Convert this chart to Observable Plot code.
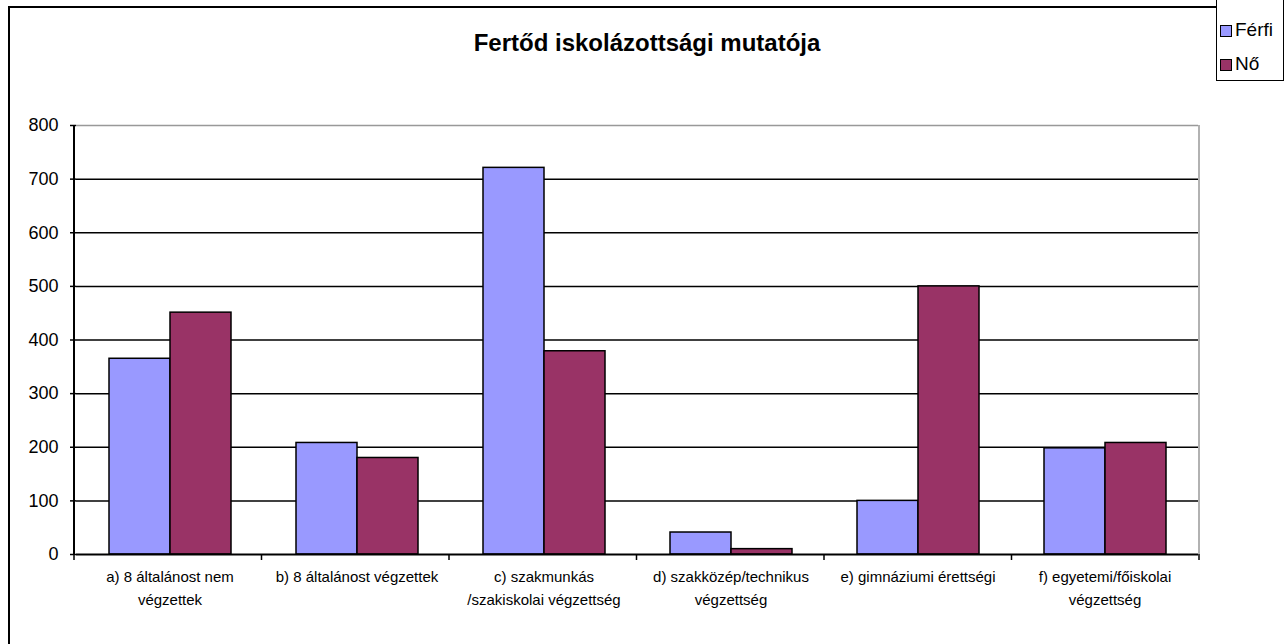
<!DOCTYPE html>
<html>
<head>
<meta charset="utf-8">
<script src="https://cdn.jsdelivr.net/npm/d3@7"></script>
<script src="https://cdn.jsdelivr.net/npm/@observablehq/plot@0.6"></script>
<style>
  html, body { margin: 0; padding: 0; background: #fff; overflow: hidden; }
  #wrap { position: relative; width: 1284px; height: 644px; overflow: hidden; font-family: "Liberation Sans", Arial, sans-serif; }
  #frame { position: absolute; left: 8px; top: 6px; width: 1400px; height: 800px; border: 2px solid #000; box-sizing: border-box; }
  #title { position: absolute; left: 0; top: 31px; width: 1294px; text-align: center; font-weight: bold; font-size: 24px; line-height: 24px; color: #000; }
  #chart { position: absolute; left: 0; top: 0; }
  #legend { position: absolute; left: 1216px; top: -2px; width: 68px; height: 83px; border: 1px solid #000; box-sizing: border-box; background: #fff; }
  .li { position: absolute; left: 3px; font-size: 19px; line-height: 19px; color: #000; white-space: nowrap; }
  .sw { display: inline-block; width: 12px; height: 12px; border: 1px solid #000; box-sizing: border-box; margin-right: 3px; vertical-align: -1px; }
</style>
</head>
<body>
<div id="wrap">
  <div id="frame"></div>
  <div id="chart"></div>
  <div id="title"></div>
  <div id="legend"></div>
</div>
<script>
const titleText = "Fertőd iskolázottsági mutatója";
const categories = [
  "a) 8 általánost nem végzettek",
  "b) 8 általánost végzettek",
  "c) szakmunkás /szakiskolai végzettség",
  "d) szakközép/technikus végzettség",
  "e) gimnáziumi érettségi",
  "f) egyetemi/főiskolai végzettség"
];
const tickLabels = [
  "a) 8 általánost nem\nvégzettek",
  "b) 8 általánost végzettek",
  "c) szakmunkás\n/szakiskolai végzettség",
  "d) szakközép/technikus\nvégzettség",
  "e) gimnáziumi érettségi",
  "f) egyetemi/főiskolai\nvégzettség"
];
const series = ["Férfi", "Nő"];
const ferfi = [365, 208, 721, 41, 100, 198];
const no = [451, 180, 379, 10, 500, 208];
const yTicks = [0, 100, 200, 300, 400, 500, 600, 700, 800];
const colors = ["#9999FF", "#993366"];

const data = categories.flatMap((c, i) => [
  {cat: c, sex: series[0], value: ferfi[i]},
  {cat: c, sex: series[1], value: no[i]}
]);

const chart = Plot.plot({
  width: 1284,
  height: 644,
  marginTop: 125,
  marginBottom: 90,
  marginLeft: 74,
  marginRight: 85,
  style: {fontFamily: "'Liberation Sans', Arial, sans-serif", background: "transparent", color: "#000"},
  fx: {domain: categories, padding: 0, label: null},
  x: {domain: series, paddingInner: 0, paddingOuter: 0.516, axis: null, label: null},
  y: {domain: [0, 800], label: null},
  color: {domain: series, range: colors},
  marks: [
    Plot.ruleY(yTicks.filter(t => t > 0 && t < 800), {stroke: "#000", strokeWidth: 1.5}),
    Plot.ruleY([800], {stroke: "#999", strokeWidth: 1.5}),
    Plot.barY(data, {fx: "cat", x: "sex", y: "value", fill: "sex", stroke: "#000", strokeWidth: 1.5}),
    Plot.ruleY([0], {stroke: "#000", strokeWidth: 2}),
    Plot.axisY({ticks: yTicks, tickSize: 6, tickPadding: 12, fontSize: 18, stroke: "#000", strokeWidth: 1.5, label: null}),
    Plot.axisFx({anchor: "bottom", tickSize: 0, tickPadding: 12, fontSize: 15, lineHeight: 1.5, label: null,
      tickFormat: d => tickLabels[categories.indexOf(d)]})
  ]
});

// Category boundary ticks, y-axis line and right border derived from the plot's scales
const fxs = chart.scale("fx");
const ys = chart.scale("y");
const [r0, r1] = fxs.range;
const n = fxs.domain.length;
const step = (r1 - r0) / n;
const [yb, yt] = ys.range;
const g = d3.select(chart).append("g");
d3.range(n + 1).forEach(i => {
  g.append("line").attr("x1", r0 + i * step).attr("x2", r0 + i * step)
    .attr("y1", yb).attr("y2", yb + 6).attr("stroke", "#000").attr("stroke-width", 1.5);
});
g.append("line").attr("x1", r1).attr("x2", r1).attr("y1", yt).attr("y2", yb)
  .attr("stroke", "#999").attr("stroke-width", 1.5);
g.append("line").attr("x1", r0).attr("x2", r0).attr("y1", yt).attr("y2", yb)
  .attr("stroke", "#000").attr("stroke-width", 2);

document.getElementById("chart").appendChild(chart);
document.getElementById("title").textContent = titleText;

const legend = document.getElementById("legend");
series.forEach((s, i) => {
  const item = document.createElement("div");
  item.className = "li";
  item.style.top = (21 + i * 34) + "px";
  const sw = document.createElement("span");
  sw.className = "sw";
  sw.style.background = colors[i];
  item.appendChild(sw);
  item.appendChild(document.createTextNode(s));
  legend.appendChild(item);
});
</script>
</body>
</html>
